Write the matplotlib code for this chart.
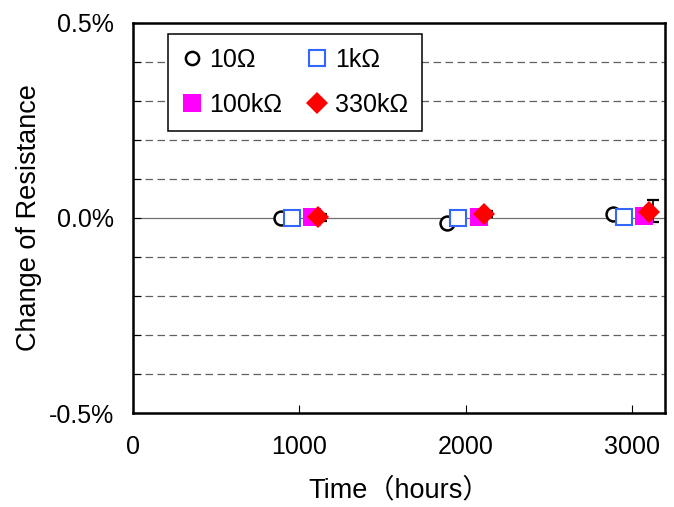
import matplotlib
matplotlib.use("Agg")
import matplotlib.pyplot as plt

plt.rcParams['font.family'] = ['Liberation Sans', 'Noto Sans CJK JP']
plt.rcParams['font.size'] = 18

# data (change in %)
hours_10 = [890, 1890, 2885]
hours_1k = [957, 1957, 2955]
hours_100k = [1078, 2078, 3075]
hours_330k = [1110, 2110, 3105]

chg_10 = [-0.001, -0.013, 0.009]
chg_1k = [0.000, 0.000, 0.003]
chg_100k = [0.001, 0.003, 0.005]
chg_330k = [0.001, 0.010, 0.014]
err_330k_lo = [0.008, 0.008, 0.024]
err_330k_hi = [0.008, 0.008, 0.032]

series_names = ['10Ω', '1kΩ', '100kΩ', '330kΩ']
y_labels = {0.5: '0.5%', 0.0: '0.0%', -0.5: '-0.5%'}

fig = plt.figure(figsize=(6.74, 5.07), dpi=100)
ax = fig.add_axes([0.1978, 0.1854, 0.7888, 0.7698])

ax.set_xlim(0, 3200)
ax.set_ylim(-0.5, 0.5)

# gridlines
for g in [-0.4, -0.3, -0.2, -0.1, 0.1, 0.2, 0.3, 0.4]:
    ax.axhline(g, color='#606060', lw=0.9, ls=(0, (6, 3.6)), zorder=1)
ax.axhline(0, color='#707070', lw=0.9, zorder=1)

# error bars sit a bit right of the diamonds in the reference
err_x = [h + 20 for h in hours_330k]
ax.errorbar(err_x, chg_330k, yerr=[err_330k_lo, err_330k_hi], fmt='none',
            ecolor='black', elinewidth=1.2, capsize=4.5, capthick=1.6, zorder=2)

h1, = ax.plot(hours_10, chg_10, 'o', ms=10, mfc='white', mec='black', mew=1.8,
              ls='none', zorder=3)
h2, = ax.plot(hours_1k, chg_1k, 's', ms=11.5, mfc='white', mec='#3366ff', mew=1.5,
              ls='none', zorder=4)
h3, = ax.plot(hours_100k, chg_100k, 's', ms=13, mfc='#ff00ff', mec='#ff00ff', mew=0,
              ls='none', zorder=5)
h4, = ax.plot(hours_330k, chg_330k, 'D', ms=11.5, mfc='red', mec='red', mew=0,
              ls='none', zorder=6)

ax.set_xticks([0, 1000, 2000, 3000])
ax.set_xticklabels(['0', '1000', '2000', '3000'])
yt = [round(-0.5 + 0.1 * i, 1) for i in range(11)]
ax.set_yticks(yt)
ax.set_yticklabels([y_labels.get(v, '') for v in yt])
ax.tick_params(axis='both', direction='in', length=6, width=0.8, color='black')
ax.tick_params(axis='y', pad=14)
ax.tick_params(axis='x', pad=16)

for s in ax.spines.values():
    s.set_linewidth(1.8)
    s.set_color('black')

ax.set_xlabel('Time（hours）', fontsize=19.5, labelpad=13)
ax.set_ylabel('Change of Resistance', fontsize=19.5, labelpad=5)

leg = ax.legend([h1, h3, h2, h4], [series_names[0], series_names[2], series_names[1], series_names[3]],
                ncol=2, loc='upper left', bbox_to_anchor=(0.065, 0.971), borderaxespad=0,
                fancybox=False, frameon=True, edgecolor='black', framealpha=1,
                handlelength=0.8, handletextpad=0.3, columnspacing=1.0,
                labelspacing=0.85, borderpad=0.55, markerscale=0.95)
leg.get_frame().set_linewidth(1.1)

fig.savefig('out.png', dpi=100)
